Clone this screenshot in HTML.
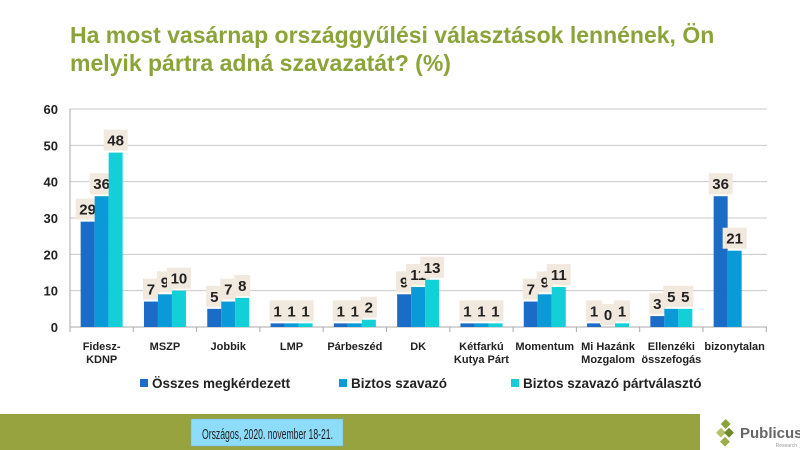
<!DOCTYPE html>
<html><head><meta charset="utf-8"><style>
html,body{margin:0;padding:0;width:800px;height:450px;overflow:hidden;background:#fff;font-family:"Liberation Sans",sans-serif}
</style></head><body>
<svg id="s" width="800" height="450" xmlns="http://www.w3.org/2000/svg" font-family="Liberation Sans, sans-serif">
<text x="70" y="43" font-size="23" font-weight="bold" fill="#8aa43a">Ha most vasárnap országgyűlési választások lennének, Ön</text>
<text x="70" y="71" font-size="23" font-weight="bold" fill="#8aa43a">melyik pártra adná szavazatát? (%)</text>
<rect x="0" y="414" width="700" height="36" fill="#97a33e"/>
<rect x="191" y="419" width="152" height="27" fill="#8ddcfa" stroke="#7ac" stroke-width="0.5"/>
<text x="202" y="439" font-size="15" textLength="131" lengthAdjust="spacingAndGlyphs" fill="#222">Országos, 2020. november 18-21.</text>
<g transform="translate(718,420)">
<rect x="4" y="0" width="7" height="7" fill="#8aa43a" transform="rotate(45 7 4)"/>
<rect x="0" y="9" width="7" height="7" fill="#b5c36a" transform="rotate(45 3 12)"/>
<rect x="8" y="9" width="7" height="7" fill="#6e8a2a" transform="rotate(45 11 12)"/>
<rect x="4" y="18" width="7" height="7" fill="#9aaf4a" transform="rotate(45 7 21)"/>
</g>
<text x="740" y="438" font-size="15" font-weight="bold" fill="#666">Publicus</text>
<text x="797" y="447" font-size="5" text-anchor="end" fill="#999">Research</text>
<g id="c"></g>
</svg>
<script>
var g=document.getElementById('c'),h='';
var y0=327,k=3.633,x0=70,w=63.3;
for(var v=0;v<=60;v+=10){var y=y0-v*k;
 h+='<line x1="70" x2="767" y1="'+y+'" y2="'+y+'" stroke="'+(v?'#c8c8c8':'#aaa')+'" stroke-width="1"/>';
 h+='<text x="58" y="'+(y+5)+'" font-size="13" font-weight="bold" text-anchor="end" fill="#222">'+v+'</text>';}
h+='<line x1="70" x2="70" y1="109" y2="331" stroke="#aaa"/>';
for(var i=0;i<=11;i++){var x=x0+i*w;h+='<line x1="'+x+'" x2="'+x+'" y1="327" y2="332" stroke="#aaa"/>';}
var cats=[["Fidesz-","KDNP"],["MSZP"],["Jobbik"],["LMP"],["Párbeszéd"],["DK"],["Kétfarkú","Kutya Párt"],["Momentum"],["Mi Hazánk","Mozgalom"],["Ellenzéki","összefogás"],["bizonytalan"]];
var d=[[29,36,48],[7,9,10],[5,7,8],[1,1,1],[1,1,2],[9,11,13],[1,1,1],[7,9,11],[1,0,1],[3,5,5],[36,21]];
var col=['#1a6cc6','#0a9ad8','#12cfd8'];
for(var i=0;i<11;i++){var cx=x0+w*(i+0.5);
 cats[i].forEach(function(t,j){h+='<text x="'+cx+'" y="'+(350+j*13)+'" font-size="11" font-weight="bold" text-anchor="middle" fill="#222">'+t+'</text>';});
 d[i].forEach(function(v,j){var bx=cx-21+j*14,bh=v*k;
  if(v>0)h+='<rect x="'+bx+'" y="'+(y0-bh)+'" width="14" height="'+bh+'" fill="'+col[j]+'"/>';
  var ty=y0-bh-4,tw=(v>=10?24:16);
  h+='<rect x="'+(bx+7-tw/2)+'" y="'+(ty-19)+'" width="'+tw+'" height="21" fill="#f2e9de"/>';
  h+='<text x="'+(bx+7)+'" y="'+(ty-3)+'" font-size="15" font-weight="bold" text-anchor="middle" fill="#222">'+v+'</text>';});}
var lg=[[140,'Összes megkérdezett'],[339,'Biztos szavazó'],[511,'Biztos szavazó pártválasztó']];
lg.forEach(function(l,j){h+='<rect x="'+l[0]+'" y="379" width="8" height="8" fill="'+col[j]+'"/><text x="'+(l[0]+12)+'" y="388" font-size="13.5" font-weight="bold" fill="#222">'+l[1]+'</text>';});
g.innerHTML=h;
</script>
</body></html>
